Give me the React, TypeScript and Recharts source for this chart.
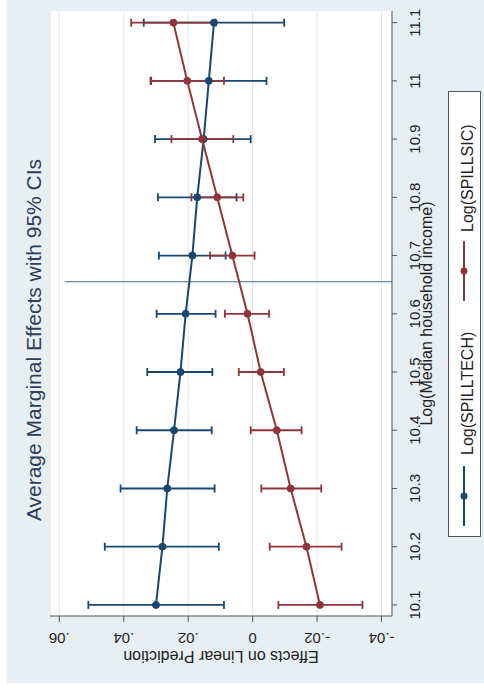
import React from "react";
import {
  LineChart,
  Line,
  XAxis,
  YAxis,
  CartesianGrid,
  ErrorBar,
  ReferenceLine,
  Legend,
  Label,
} from "recharts";

// log median household income (rows of the rotated chart)
const INCOME = [10.1, 10.2, 10.3, 10.4, 10.5, 10.6, 10.7, 10.8, 10.9, 11.0, 11.1];

// Log(SPILLTECH): margins and 95% CI bounds
const TECH = [0.03, 0.028, 0.0265, 0.0244, 0.0224, 0.0208, 0.0187, 0.0172, 0.0152, 0.0136, 0.012];
const TECH_LO = [0.0089, 0.0105, 0.0118, 0.0127, 0.0125, 0.0115, 0.0084, 0.005, 0.0006, -0.0043, -0.0098];
const TECH_HI = [0.051, 0.0459, 0.041, 0.036, 0.0327, 0.0298, 0.0291, 0.0294, 0.0303, 0.0315, 0.0338];

// Log(SPILLSIC)
const SIC = [-0.0209, -0.0167, -0.0118, -0.0075, -0.0025, 0.0016, 0.0063, 0.011, 0.0157, 0.0203, 0.0246];
const SIC_LO = [-0.0341, -0.0276, -0.0213, -0.0152, -0.0097, -0.0051, -0.0006, 0.0029, 0.006, 0.0089, 0.0115];
const SIC_HI = [-0.008, -0.0053, -0.0027, 0.0006, 0.0043, 0.0086, 0.0132, 0.019, 0.0252, 0.0317, 0.0377];

const EFFECT_TICKS = [-0.04, -0.02, 0, 0.02, 0.04, 0.06];
const INCOME_TICKS = [10.1, 10.2, 10.3, 10.4, 10.5, 10.6, 10.7, 10.8, 10.9, 11, 11.1];
const MEAN_INCOME = 10.655;
const LEGEND_ORDER = ["tech", "sic"];

const EFFECT_DOMAIN: [number, number] = [-0.04326, 0.0629];
const INCOME_DOMAIN: [number, number] = [10.081, 11.12];

const NAVY = "#1a476f";
const MAROON = "#90353b";
const AXIS = "#555";
const TEXT = "#222";
const FONT = '"Liberation Sans", Arial, sans-serif';

const data = INCOME.map((income, i) => ({
  income,
  tech: TECH[i],
  techErr: [TECH[i] - TECH_LO[i], TECH_HI[i] - TECH[i]],
  sic: SIC[i],
  sicErr: [SIC[i] - SIC_LO[i], SIC_HI[i] - SIC[i]],
}));

const fmtEffect = (v: number) => (v === 0 ? "0" : String(v).replace("0.", "."));

// chart is drawn turned a quarter left, so bottom labels are upside down
function EffectTick({ x, y, payload }: any) {
  const ty = y + 9;
  return (
    <text
      x={x}
      y={ty}
      transform={`rotate(180, ${x}, ${ty})`}
      textAnchor="middle"
      fontSize={15}
      fontFamily={FONT}
      fill={TEXT}
    >
      {fmtEffect(payload.value)}
    </text>
  );
}

function IncomeTick({ x, y, payload }: any) {
  const tx = x + 21;
  return (
    <text
      x={tx}
      y={y}
      transform={`rotate(-90, ${tx}, ${y})`}
      textAnchor="middle"
      fontSize={15}
      fontFamily={FONT}
      fill={TEXT}
    >
      {String(payload.value)}
    </text>
  );
}

function EffectTitle({ viewBox }: any) {
  const cx = viewBox.x + viewBox.width / 2;
  const cy = viewBox.y + 35;
  return (
    <text
      x={cx}
      y={cy}
      transform={`rotate(180, ${cx}, ${cy})`}
      textAnchor="middle"
      fontSize={16}
      fontFamily={FONT}
      fill={TEXT}
    >
      Effects on Linear Prediction
    </text>
  );
}

function IncomeTitle({ viewBox }: any) {
  const cx = viewBox.x + 40;
  const cy = viewBox.y + viewBox.height / 2;
  return (
    <text
      x={cx}
      y={cy}
      transform={`rotate(-90, ${cx}, ${cy})`}
      textAnchor="middle"
      fontSize={16}
      fontFamily={FONT}
      fill={TEXT}
    >
      Log(Median household income)
    </text>
  );
}

function RotatedLegend({ payload }: any) {
  const items = [...(payload || [])].sort(
    (a: any, b: any) => LEGEND_ORDER.indexOf(a.dataKey) - LEGEND_ORDER.indexOf(b.dataKey)
  );
  // first entry sits at the bottom of the box
  const slots = [
    { sym: 405, text: 364 },
    { sym: 180, text: 141 },
  ];
  return (
    <svg width={33} height={446}>
      <rect x={0.5} y={0.5} width={32} height={445} fill="#fff" stroke={AXIS} strokeWidth={1} />
      {items.map((it: any, i: number) => {
        const s = slots[i] || slots[0];
        return (
          <g key={it.value}>
            <line x1={16} x2={16} y1={s.sym - 30} y2={s.sym + 30} stroke={it.color} strokeWidth={2} />
            <circle cx={16} cy={s.sym} r={3.5} fill={it.color} />
            <text
              x={25}
              y={s.text}
              transform={`rotate(-90, 25, ${s.text})`}
              fontSize={16}
              fontFamily={FONT}
              fill={TEXT}
            >
              {it.value}
            </text>
          </g>
        );
      })}
    </svg>
  );
}

export default function App() {
  return (
    <div
      style={{
        position: "absolute",
        left: 0,
        top: 0,
        width: 484,
        height: 692,
        background: "#fff",
        overflow: "hidden",
      }}
    >
      <div
        style={{
          position: "absolute",
          left: 7,
          top: 0,
          width: 477,
          height: 683,
          background: "#e8eff2",
        }}
      />
      <div style={{ position: "absolute", left: 0, top: 0 }}>
        <LineChart
          width={484}
          height={692}
          layout="vertical"
          data={data}
          margin={{ top: 11, right: 52, bottom: 46, left: 50 }}
        >
          <CartesianGrid horizontal={false} stroke="#dfe7eb" fill="#fff" />
          <XAxis
            type="number"
            dataKey="tech"
            domain={EFFECT_DOMAIN}
            allowDataOverflow
            reversed
            ticks={EFFECT_TICKS}
            interval={0}
            height={30}
            stroke={AXIS}
            tickSize={6}
            tick={<EffectTick />}
          >
            <Label content={<EffectTitle />} />
          </XAxis>
          <YAxis
            type="number"
            dataKey="income"
            orientation="right"
            domain={INCOME_DOMAIN}
            allowDataOverflow
            reversed
            ticks={INCOME_TICKS}
            interval={0}
            width={40}
            stroke={AXIS}
            tickSize={5}
            tick={<IncomeTick />}
          >
            <Label content={<IncomeTitle />} />
          </YAxis>
          <ReferenceLine
            segment={[
              { x: 0.0582, y: MEAN_INCOME },
              { x: EFFECT_DOMAIN[0], y: MEAN_INCOME },
            ]}
            stroke="#3d6fa5"
            strokeWidth={1.2}
            ifOverflow="visible"
          />
          <Line
            type="linear"
            dataKey="tech"
            name="Log(SPILLTECH)"
            stroke={NAVY}
            strokeWidth={2}
            dot={{ r: 3.5, fill: NAVY, stroke: NAVY, strokeWidth: 1 }}
            activeDot={false}
            isAnimationActive={false}
          >
            <ErrorBar dataKey="techErr" direction="x" width={4} stroke={NAVY} strokeWidth={1.8} />
          </Line>
          <Line
            type="linear"
            dataKey="sic"
            name="Log(SPILLSIC)"
            stroke={MAROON}
            strokeWidth={2}
            dot={{ r: 3.5, fill: MAROON, stroke: MAROON, strokeWidth: 1 }}
            activeDot={false}
            isAnimationActive={false}
          >
            <ErrorBar dataKey="sicErr" direction="x" width={4} stroke={MAROON} strokeWidth={1.8} />
          </Line>
          <Legend
            layout="vertical"
            align="center"
            verticalAlign="middle"
            content={<RotatedLegend />}
            wrapperStyle={{ left: 448, top: 91, width: 33, height: 446 }}
          />
        </LineChart>
      </div>
      <div
        style={{
          position: "absolute",
          left: 33,
          top: 340,
          transform: "translate(-50%, -50%) rotate(-90deg)",
          whiteSpace: "nowrap",
          fontFamily: FONT,
          fontSize: 21,
          color: "#2c3e58",
          lineHeight: 1,
        }}
      >
        Average Marginal Effects with 95% CIs
      </div>
    </div>
  );
}
